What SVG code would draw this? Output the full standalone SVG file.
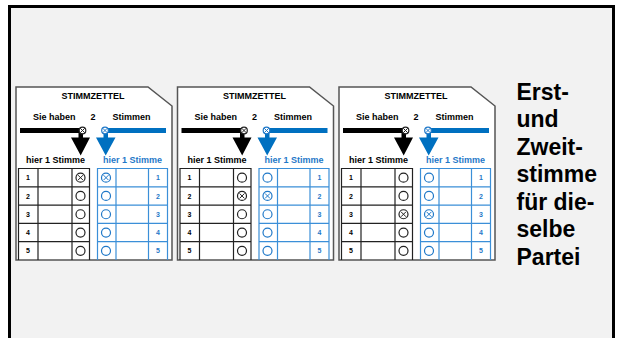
<svg xmlns="http://www.w3.org/2000/svg" width="619" height="338" viewBox="0 0 619 338">
<defs>
<style>
.t{font-family:"Liberation Sans",Arial,sans-serif;font-weight:bold}
.sheet{fill:#fff;stroke:#555;stroke-width:1.5}
.bk{stroke:#222;stroke-width:1.2;fill:none}
.bl{stroke:#3b8fd8;stroke-width:1.2;fill:none}
.ck{fill:#fff;stroke:#222;stroke-width:1.2}
.cb{fill:#fff;stroke:#1f78c8;stroke-width:1.2}
.xk{stroke:#222;stroke-width:1}
.xb{stroke:#1f78c8;stroke-width:1}
.num{font-size:7px}
.blue{fill:#1f78c8}
</style>
</defs>
<rect x="0" y="0" width="619" height="338" fill="#fff"/>
<rect id="frame" x="9.5" y="6.5" width="604" height="340" fill="#f2f2f2" stroke="#000" stroke-width="3"/>

<g id="ballot1">
<path class="sheet" d="M16,87 H148 L172,106 V260 H16 Z"/>
<text class="t" x="93" y="98.5" font-size="9" text-anchor="middle">STIMMZETTEL</text>
<text class="t" x="33" y="120" font-size="9">Sie haben</text>
<text class="t" x="93" y="120" font-size="9" text-anchor="middle">2</text>
<text class="t" x="131.5" y="120" font-size="9" text-anchor="middle">Stimmen</text>
<rect x="20" y="128" width="60" height="5" fill="#000"/>
<rect x="107" y="128" width="59" height="5" fill="#0070c0"/>
<polygon points="78.5,133 83,133 83,137.5 90,137.5 80.7,155.5 71,137.5 78.5,137.5" fill="#000"/>
<polygon points="103.5,133 108,133 108,137.5 115.5,137.5 105.7,155.5 96,137.5 103.5,137.5" fill="#0070c0"/>
<circle cx="82.5" cy="130.5" r="3.3" class="ck"/><path class="xk" d="M80.3,128.3 L84.7,132.7 M84.7,128.3 L80.3,132.7"/>
<circle cx="105" cy="130.5" r="3.3" class="cb"/><path class="xb" d="M102.8,128.3 L107.2,132.7 M107.2,128.3 L102.8,132.7"/>
<text class="t" x="26" y="162.5" font-size="9">hier 1 Stimme</text>
<text class="t blue" x="103" y="162.5" font-size="9">hier 1 Stimme</text>
<path class="bk" d="M18.5,260 V168.5 H89.5 V260 M38,168.5 V260 M72,168.5 V260 M18.5,186.8 H89.5 M18.5,205.1 H89.5 M18.5,223.4 H89.5 M18.5,241.7 H89.5"/>
<path class="bl" d="M97.5,260 V168.5 H167.5 V260 M116,168.5 V260 M148.5,168.5 V260 M97.5,186.8 H167.5 M97.5,205.1 H167.5 M97.5,223.4 H167.5 M97.5,241.7 H167.5"/>
<text class="t num" x="28" y="180.2" text-anchor="middle">1</text>
<text class="t num" x="28" y="198.5" text-anchor="middle">2</text>
<text class="t num" x="28" y="216.8" text-anchor="middle">3</text>
<text class="t num" x="28" y="235.1" text-anchor="middle">4</text>
<text class="t num" x="28" y="253.4" text-anchor="middle">5</text>
<text class="t num blue" x="158" y="180.2" text-anchor="middle">1</text>
<text class="t num blue" x="158" y="198.5" text-anchor="middle">2</text>
<text class="t num blue" x="158" y="216.8" text-anchor="middle">3</text>
<text class="t num blue" x="158" y="235.1" text-anchor="middle">4</text>
<text class="t num blue" x="158" y="253.4" text-anchor="middle">5</text>
<circle cx="80.5" cy="177.65" r="4.5" class="ck"/><path class="xk" d="M78,175.15 L83,180.15 M83,175.15 L78,180.15"/>
<circle cx="80.5" cy="195.95" r="4.5" class="ck"/>
<circle cx="80.5" cy="214.25" r="4.5" class="ck"/>
<circle cx="80.5" cy="232.55" r="4.5" class="ck"/>
<circle cx="80.5" cy="250.85" r="4.5" class="ck"/>
<circle cx="106" cy="177.65" r="4.5" class="cb"/><path class="xb" d="M103.5,175.15 L108.5,180.15 M108.5,175.15 L103.5,180.15"/>
<circle cx="106" cy="195.95" r="4.5" class="cb"/>
<circle cx="106" cy="214.25" r="4.5" class="cb"/>
<circle cx="106" cy="232.55" r="4.5" class="cb"/>
<circle cx="106" cy="250.85" r="4.5" class="cb"/>
</g>

<g id="ballot2" transform="translate(161.5,0)">
<path class="sheet" d="M16,87 H148 L172,106 V260 H16 Z"/>
<text class="t" x="93" y="98.5" font-size="9" text-anchor="middle">STIMMZETTEL</text>
<text class="t" x="33" y="120" font-size="9">Sie haben</text>
<text class="t" x="93" y="120" font-size="9" text-anchor="middle">2</text>
<text class="t" x="131.5" y="120" font-size="9" text-anchor="middle">Stimmen</text>
<rect x="20" y="128" width="60" height="5" fill="#000"/>
<rect x="107" y="128" width="59" height="5" fill="#0070c0"/>
<polygon points="78.5,133 83,133 83,137.5 90,137.5 80.7,155.5 71,137.5 78.5,137.5" fill="#000"/>
<polygon points="103.5,133 108,133 108,137.5 115.5,137.5 105.7,155.5 96,137.5 103.5,137.5" fill="#0070c0"/>
<circle cx="82.5" cy="130.5" r="3.3" class="ck"/><path class="xk" d="M80.3,128.3 L84.7,132.7 M84.7,128.3 L80.3,132.7"/>
<circle cx="105" cy="130.5" r="3.3" class="cb"/><path class="xb" d="M102.8,128.3 L107.2,132.7 M107.2,128.3 L102.8,132.7"/>
<text class="t" x="26" y="162.5" font-size="9">hier 1 Stimme</text>
<text class="t blue" x="103" y="162.5" font-size="9">hier 1 Stimme</text>
<path class="bk" d="M18.5,260 V168.5 H89.5 V260 M38,168.5 V260 M72,168.5 V260 M18.5,186.8 H89.5 M18.5,205.1 H89.5 M18.5,223.4 H89.5 M18.5,241.7 H89.5"/>
<path class="bl" d="M97.5,260 V168.5 H167.5 V260 M116,168.5 V260 M148.5,168.5 V260 M97.5,186.8 H167.5 M97.5,205.1 H167.5 M97.5,223.4 H167.5 M97.5,241.7 H167.5"/>
<text class="t num" x="28" y="180.2" text-anchor="middle">1</text>
<text class="t num" x="28" y="198.5" text-anchor="middle">2</text>
<text class="t num" x="28" y="216.8" text-anchor="middle">3</text>
<text class="t num" x="28" y="235.1" text-anchor="middle">4</text>
<text class="t num" x="28" y="253.4" text-anchor="middle">5</text>
<text class="t num blue" x="158" y="180.2" text-anchor="middle">1</text>
<text class="t num blue" x="158" y="198.5" text-anchor="middle">2</text>
<text class="t num blue" x="158" y="216.8" text-anchor="middle">3</text>
<text class="t num blue" x="158" y="235.1" text-anchor="middle">4</text>
<text class="t num blue" x="158" y="253.4" text-anchor="middle">5</text>
<circle cx="80.5" cy="177.65" r="4.5" class="ck"/>
<circle cx="80.5" cy="195.95" r="4.5" class="ck"/><path class="xk" d="M78,193.45 L83,198.45 M83,193.45 L78,198.45"/>
<circle cx="80.5" cy="214.25" r="4.5" class="ck"/>
<circle cx="80.5" cy="232.55" r="4.5" class="ck"/>
<circle cx="80.5" cy="250.85" r="4.5" class="ck"/>
<circle cx="106" cy="177.65" r="4.5" class="cb"/>
<circle cx="106" cy="195.95" r="4.5" class="cb"/><path class="xb" d="M103.5,193.45 L108.5,198.45 M108.5,193.45 L103.5,198.45"/>
<circle cx="106" cy="214.25" r="4.5" class="cb"/>
<circle cx="106" cy="232.55" r="4.5" class="cb"/>
<circle cx="106" cy="250.85" r="4.5" class="cb"/>
</g>

<g id="ballot3" transform="translate(323,0)">
<path class="sheet" d="M16,87 H148 L172,106 V260 H16 Z"/>
<text class="t" x="93" y="98.5" font-size="9" text-anchor="middle">STIMMZETTEL</text>
<text class="t" x="33" y="120" font-size="9">Sie haben</text>
<text class="t" x="93" y="120" font-size="9" text-anchor="middle">2</text>
<text class="t" x="131.5" y="120" font-size="9" text-anchor="middle">Stimmen</text>
<rect x="20" y="128" width="60" height="5" fill="#000"/>
<rect x="107" y="128" width="59" height="5" fill="#0070c0"/>
<polygon points="78.5,133 83,133 83,137.5 90,137.5 80.7,155.5 71,137.5 78.5,137.5" fill="#000"/>
<polygon points="103.5,133 108,133 108,137.5 115.5,137.5 105.7,155.5 96,137.5 103.5,137.5" fill="#0070c0"/>
<circle cx="82.5" cy="130.5" r="3.3" class="ck"/><path class="xk" d="M80.3,128.3 L84.7,132.7 M84.7,128.3 L80.3,132.7"/>
<circle cx="105" cy="130.5" r="3.3" class="cb"/><path class="xb" d="M102.8,128.3 L107.2,132.7 M107.2,128.3 L102.8,132.7"/>
<text class="t" x="26" y="162.5" font-size="9">hier 1 Stimme</text>
<text class="t blue" x="103" y="162.5" font-size="9">hier 1 Stimme</text>
<path class="bk" d="M18.5,260 V168.5 H89.5 V260 M38,168.5 V260 M72,168.5 V260 M18.5,186.8 H89.5 M18.5,205.1 H89.5 M18.5,223.4 H89.5 M18.5,241.7 H89.5"/>
<path class="bl" d="M97.5,260 V168.5 H167.5 V260 M116,168.5 V260 M148.5,168.5 V260 M97.5,186.8 H167.5 M97.5,205.1 H167.5 M97.5,223.4 H167.5 M97.5,241.7 H167.5"/>
<text class="t num" x="28" y="180.2" text-anchor="middle">1</text>
<text class="t num" x="28" y="198.5" text-anchor="middle">2</text>
<text class="t num" x="28" y="216.8" text-anchor="middle">3</text>
<text class="t num" x="28" y="235.1" text-anchor="middle">4</text>
<text class="t num" x="28" y="253.4" text-anchor="middle">5</text>
<text class="t num blue" x="158" y="180.2" text-anchor="middle">1</text>
<text class="t num blue" x="158" y="198.5" text-anchor="middle">2</text>
<text class="t num blue" x="158" y="216.8" text-anchor="middle">3</text>
<text class="t num blue" x="158" y="235.1" text-anchor="middle">4</text>
<text class="t num blue" x="158" y="253.4" text-anchor="middle">5</text>
<circle cx="80.5" cy="177.65" r="4.5" class="ck"/>
<circle cx="80.5" cy="195.95" r="4.5" class="ck"/>
<circle cx="80.5" cy="214.25" r="4.5" class="ck"/><path class="xk" d="M78,211.75 L83,216.75 M83,211.75 L78,216.75"/>
<circle cx="80.5" cy="232.55" r="4.5" class="ck"/>
<circle cx="80.5" cy="250.85" r="4.5" class="ck"/>
<circle cx="106" cy="177.65" r="4.5" class="cb"/>
<circle cx="106" cy="195.95" r="4.5" class="cb"/>
<circle cx="106" cy="214.25" r="4.5" class="cb"/><path class="xb" d="M103.5,211.75 L108.5,216.75 M108.5,211.75 L103.5,216.75"/>
<circle cx="106" cy="232.55" r="4.5" class="cb"/>
<circle cx="106" cy="250.85" r="4.5" class="cb"/>
</g>

<g id="caption">
<text class="t" font-size="23" x="516.5" y="99.5">Erst-</text>
<text class="t" font-size="23" x="516.5" y="127">und</text>
<text class="t" font-size="23" x="516.5" y="154.5">Zweit-</text>
<text class="t" font-size="23" x="516.5" y="182">stimme</text>
<text class="t" font-size="23" x="516.5" y="209.5">für die-</text>
<text class="t" font-size="23" x="516.5" y="237">selbe</text>
<text class="t" font-size="23" x="516.5" y="264.5">Partei</text>
</g>
<g id="connectors"/>
</svg>
